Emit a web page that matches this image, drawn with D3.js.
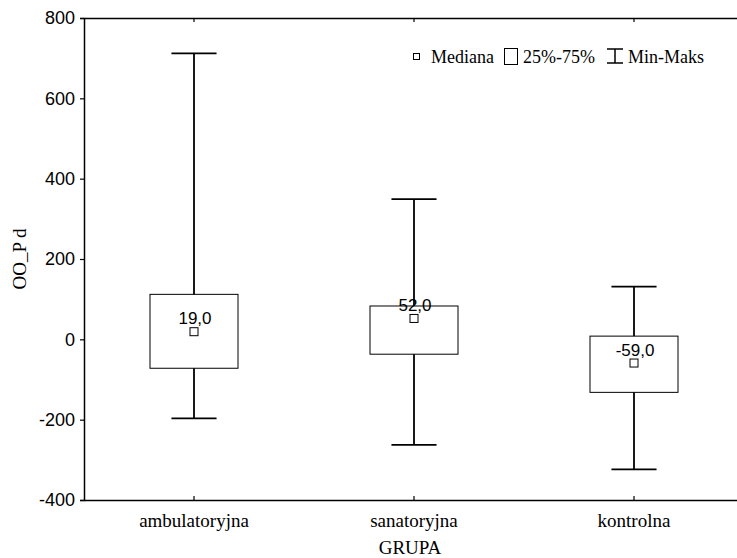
<!DOCTYPE html>
<html><head><meta charset="utf-8">
<script src="https://cdn.jsdelivr.net/npm/d3@7"></script>
<style>html,body{margin:0;padding:0;background:#fff;overflow:hidden}</style>
</head><body>
<svg id="chart" width="737" height="558"></svg>
<script>
const categories = ["ambulatoryjna", "sanatoryjna", "kontrolna"];
const mins    = [-197, -263, -324];
const q1s     = [-72, -37, -132];
const medians = [19, 52, -59];
const q3s     = [112, 83, 8];
const maxs    = [712, 349, 131];
const yTicks  = [-400, -200, 0, 200, 400, 600, 800];
const xTitle = "GRUPA";
const yTitle = "OO_P d";
const legendLabels = ["Mediana", "25%-75%", "Min-Maks"];

const svg = d3.select("#chart");
const L = 84, R = 744, T = 18, B = 500;
const x = d3.scaleBand().domain(categories).range([L, R]).padding(0);
const y = d3.scaleLinear().domain([-400, 800]).range([B, T]);
const cx = c => x(c) + x.bandwidth() / 2;
const boxW = x.bandwidth() * 0.4;
const capW = x.bandwidth() * 0.205;
const serif = "'Liberation Serif','Times New Roman',serif";
const sans = "'Liberation Sans',Arial,sans-serif";

// Y axis
const ya = svg.append("g").attr("transform", `translate(${L},0)`)
  .call(d3.axisLeft(y).tickValues(yTicks).tickSize(4).tickPadding(5).tickFormat(d => String(d)));
ya.select(".domain").attr("stroke", "#000").attr("stroke-width", 1.5);
ya.selectAll(".tick line").attr("stroke", "#000").attr("stroke-width", 1.2);
ya.selectAll(".tick text").attr("font-family", sans).attr("font-size", 18).attr("fill", "#000");

// Bottom axis (inner ticks)
const xa = svg.append("g").attr("transform", `translate(0,${B})`)
  .call(d3.axisBottom(x).tickSize(-4).tickSizeOuter(0).tickPadding(14));
xa.select(".domain").attr("stroke", "#000").attr("stroke-width", 1.5);
xa.selectAll(".tick line").attr("stroke", "#000").attr("stroke-width", 1.2);
xa.selectAll(".tick text").attr("font-family", serif).attr("font-size", 19).attr("fill", "#000");

// Top frame (inner ticks)
const ta = svg.append("g").attr("transform", `translate(0,${T})`)
  .call(d3.axisTop(x).tickSize(-4).tickSizeOuter(0).tickFormat(""));
ta.select(".domain").attr("stroke", "#000").attr("stroke-width", 1.5);
ta.selectAll(".tick line").attr("stroke", "#000").attr("stroke-width", 1.2);

// Titles
svg.append("text").attr("x", 410).attr("y", 554).attr("text-anchor", "middle")
  .attr("font-family", serif).attr("font-size", 19).text(xTitle);
svg.append("text").attr("transform", `translate(26,${(T + B) / 2}) rotate(-90)`)
  .attr("text-anchor", "middle").attr("font-family", serif).attr("font-size", 19).text(yTitle);

// Boxes
const data = categories.map((c, i) => ({c, min: mins[i], q1: q1s[i], med: medians[i], q3: q3s[i], max: maxs[i]}));
const g = svg.append("g");
data.forEach(d => {
  const X = cx(d.c);
  g.append("line").attr("x1", X).attr("x2", X).attr("y1", y(d.max)).attr("y2", y(d.min))
    .attr("stroke", "#000").attr("stroke-width", 1.8);
  [d.max, d.min].forEach(v => g.append("line").attr("x1", X - capW / 2).attr("x2", X + capW / 2)
    .attr("y1", y(v)).attr("y2", y(v)).attr("stroke", "#000").attr("stroke-width", 1.8));
  g.append("rect").attr("x", X - boxW / 2).attr("y", y(d.q3)).attr("width", boxW)
    .attr("height", y(d.q1) - y(d.q3)).attr("fill", "#fff").attr("stroke", "#000").attr("stroke-width", 1);
  g.append("rect").attr("x", X - 4).attr("y", y(d.med) - 4).attr("width", 8).attr("height", 8)
    .attr("fill", "#fff").attr("stroke", "#000").attr("stroke-width", 1);
  g.append("text").attr("x", X + 1).attr("y", y(d.med) - 7.5).attr("text-anchor", "middle")
    .attr("font-family", sans).attr("font-size", 17).attr("fill", "#000")
    .text(d.med.toFixed(1).replace(".", ","));
});

// Legend
const lg = svg.append("g");
lg.append("rect").attr("x", 413.5).attr("y", 53.5).attr("width", 6).attr("height", 6)
  .attr("fill", "#fff").attr("stroke", "#000").attr("stroke-width", 1);
lg.append("text").attr("x", 431).attr("y", 63).attr("font-family", serif).attr("font-size", 18).text(legendLabels[0]);
lg.append("rect").attr("x", 504.5).attr("y", 48.5).attr("width", 13).attr("height", 16)
  .attr("fill", "#fff").attr("stroke", "#000").attr("stroke-width", 1);
lg.append("text").attr("x", 523).attr("y", 63).attr("font-family", serif).attr("font-size", 18).text(legendLabels[1]);
lg.append("line").attr("x1", 615).attr("x2", 615).attr("y1", 49).attr("y2", 63).attr("stroke", "#000").attr("stroke-width", 1.5);
lg.append("line").attr("x1", 607).attr("x2", 623).attr("y1", 49).attr("y2", 49).attr("stroke", "#000").attr("stroke-width", 1.5);
lg.append("line").attr("x1", 607).attr("x2", 623).attr("y1", 63).attr("y2", 63).attr("stroke", "#000").attr("stroke-width", 1.5);
lg.append("text").attr("x", 628).attr("y", 63).attr("font-family", serif).attr("font-size", 18).text(legendLabels[2]);
</script>
</body></html>
